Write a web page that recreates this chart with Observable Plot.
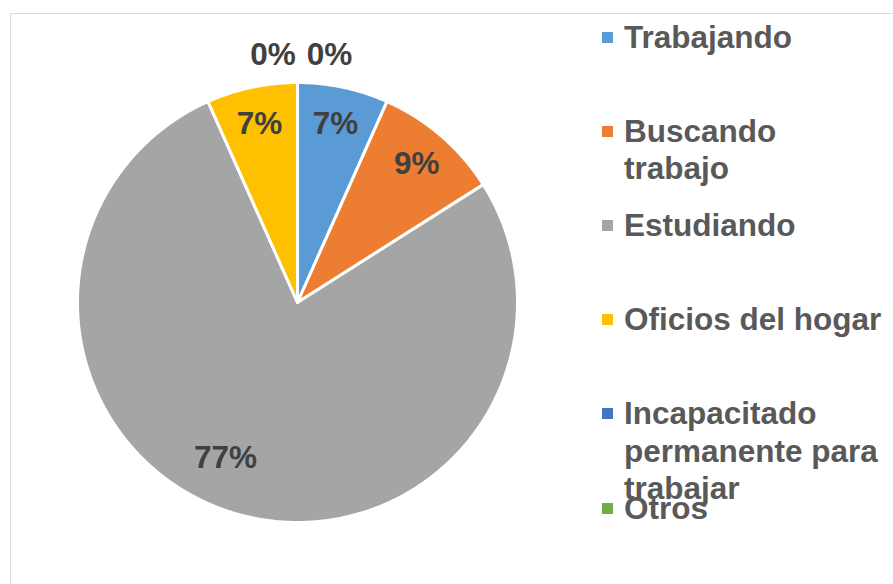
<!DOCTYPE html>
<html><head><meta charset="utf-8">
<script src="https://cdn.jsdelivr.net/npm/d3@7"></script>
<script src="https://cdn.jsdelivr.net/npm/@observablehq/plot@0.6"></script>
<style>
body{margin:0;background:#fff;}
#wrap{position:relative;width:893px;height:584px;overflow:hidden;font-family:"Liberation Sans",Arial,sans-serif;}
#frame{position:absolute;left:10px;top:13px;width:1000px;height:1000px;border:1.5px solid #d9d9d9;box-sizing:border-box;}
#chart{position:absolute;left:0;top:0;}
#legend{position:absolute;left:602px;top:0;}
.item{position:absolute;left:0;white-space:nowrap;}
.sw{position:absolute;left:0;top:13px;width:11px;height:11px;}
.lbl{position:absolute;left:22px;top:0;font-weight:bold;font-size:31.5px;color:#595959;line-height:37.5px;}
</style>
</head><body>
<div id="wrap"><div id="frame"></div><div id="chart"></div><div id="legend"></div></div>
<script>
const categories = ["Trabajando","Buscando trabajo","Estudiando","Oficios del hogar","Incapacitado permanente para trabajar","Otros"];
const counts = [5, 7, 58, 5, 0, 0];
const colors = ["#5B9BD5","#ED7D31","#A5A5A5","#FFC000","#4472C4","#70AD47"];
const legendLines = [["Trabajando"],["Buscando","trabajo"],["Estudiando"],["Oficios del hogar"],["Incapacitado","permanente para","trabajar"],["Otros"]];

const total = d3.sum(counts);
const arcs = d3.pie().sort(null).value(d => d)(counts);

// slice polygons in unit-circle coordinates (y up)
const slicePts = [];
arcs.forEach((a, i) => {
  if (a.endAngle - a.startAngle <= 0) return;
  const cat = categories[i];
  slicePts.push({cat, x: 0, y: 0});
  const n = Math.max(2, Math.ceil((a.endAngle - a.startAngle) / (Math.PI / 360)));
  for (let k = 0; k <= n; k++) {
    const t = a.startAngle + (a.endAngle - a.startAngle) * k / n;
    slicePts.push({cat, x: Math.sin(t), y: Math.cos(t)});
  }
  slicePts.push({cat, x: 0, y: 0});
});

// labels
const labels = [];
const zeroIdx = arcs.map((a, i) => i).filter(i => counts[i] === 0);
arcs.forEach((a, i) => {
  const t = Math.round(counts[i] / total * 100) + "%";
  if (counts[i] === 0) {
    const j = zeroIdx.indexOf(i);
    labels.push({t, x: (j - (zeroIdx.length - 1) / 2) * 0.256 + 0.017, y: 1.127});
  } else {
    const big = (a.endAngle - a.startAngle) > Math.PI;
    const m = (a.startAngle + a.endAngle) / 2 + (big ? 0.14 : 0);
    const r = big ? 0.78 : 0.83;
    labels.push({t, x: r * Math.sin(m), y: r * Math.cos(m)});
  }
});

const chart = Plot.plot({
  width: 893, height: 584, margin: 0,
  style: {background: "transparent"},
  x: {domain: [-1, 1], range: [77, 517], axis: null},
  y: {domain: [-1, 1], range: [522, 82], axis: null},
  color: {domain: categories, range: colors},
  marks: [
    Plot.line(slicePts, {x: "x", y: "y", z: "cat", fill: "cat", stroke: "white", strokeWidth: 3, strokeLinejoin: "round"}),
    Plot.text(labels, {x: "x", y: "y", text: "t", fontSize: 31.5, fontWeight: "bold", fill: "#404040", fontFamily: "Liberation Sans, Arial, sans-serif"})
  ]
});
document.getElementById("chart").appendChild(chart);

const legend = document.getElementById("legend");
categories.forEach((c, i) => {
  const it = document.createElement("div");
  it.className = "item";
  it.style.top = (18.5 + i * 94.2) + "px";
  const sw = document.createElement("div");
  sw.className = "sw";
  sw.style.background = colors[i];
  const lb = document.createElement("div");
  lb.className = "lbl";
  lb.innerHTML = legendLines[i].join("<br>");
  it.appendChild(sw); it.appendChild(lb);
  legend.appendChild(it);
});
</script>
</body></html>
